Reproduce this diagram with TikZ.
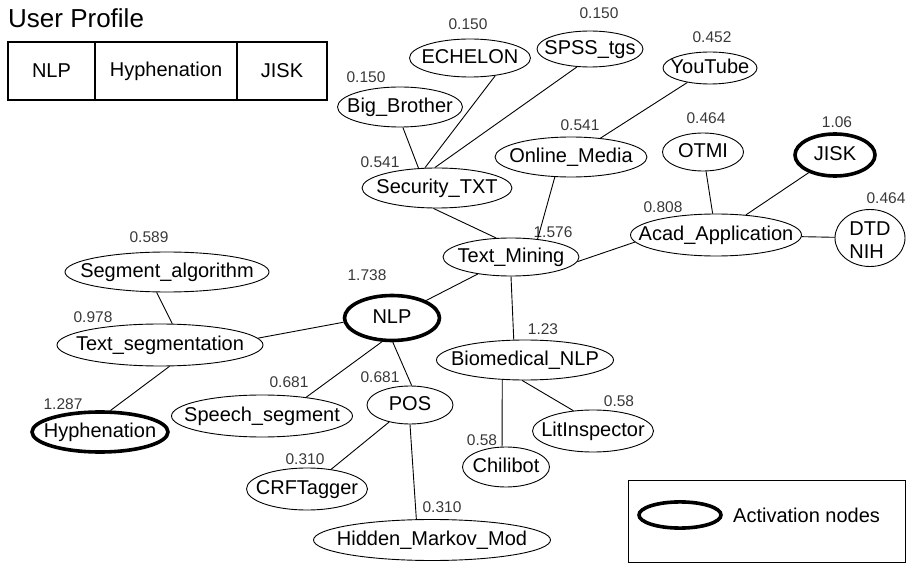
\documentclass[tikz,border=0pt]{standalone}
\usepackage{fontspec}
\setmainfont{Liberation Sans}
\usetikzlibrary{shapes.geometric}
\definecolor{ValueClr}{rgb}{0.22,0.22,0.22}
\newcommand{\TopicFont}{\fontsize{20}{23}\selectfont}
\newcommand{\ValueFont}{\fontsize{15.5}{18}\selectfont}
\newcommand{\TitleFont}{\fontsize{26}{30}\selectfont}
\newcommand{\Tpc}[1]{\makebox[0pt]{#1}}

\begin{document}
\begin{tikzpicture}[x=1pt,y=-1pt,
  topic/.style={ellipse,draw,line width=0.9pt,inner sep=0pt,text height=14.5pt,text depth=4pt,font=\TopicFont},
  active/.style={topic,line width=3.6pt},
  value/.style={inner sep=0pt,text=ValueClr,font=\ValueFont},
  cell/.style={draw,line width=1.8pt,minimum height=58pt,inner sep=0pt,font=\TopicFont},
  link/.style={line width=0.9pt}]
\useasboundingbox (0,0) rectangle (906,564);

\node[anchor=base west,inner sep=0pt,font=\TitleFont] (title) at (8,28) {User Profile};
\node[cell,minimum width=87pt] (cNLP) at (51.5,71) {NLP};
\node[cell,minimum width=142pt] (cHyph) at (166,71) {Hyphenation};
\node[cell,minimum width=90pt] (cJISK) at (282,71) {JISK};

\node[topic,minimum width=121pt,minimum height=38pt] (echelon) at (470,58) {\Tpc{ECHELON}};
\node[topic,minimum width=106pt,minimum height=36pt] (spss) at (590,49) {\Tpc{SPSS\_tgs}};
\node[topic,minimum width=94pt,minimum height=32pt] (youtube) at (710,68) {\Tpc{YouTube}};
\node[topic,minimum width=125pt,minimum height=40pt] (bigbro) at (400,107) {\Tpc{Big\_Brother}};
\node[topic,minimum width=150pt,minimum height=40pt] (sectxt) at (437,188) {\Tpc{Security\_TXT}};
\node[topic,minimum width=152pt,minimum height=40pt] (online) at (571,157) {\Tpc{Online\_Media}};
\node[topic,minimum width=81pt,minimum height=38pt] (otmi) at (703,152) {\Tpc{OTMI}};
\node[active,minimum width=80pt,minimum height=42pt] (jisk) at (835,155) {\Tpc{JISK}};
\node[topic,minimum width=171pt,minimum height=42pt] (acad) at (716,235) {\Tpc{Acad\_Application}};
\node[topic,minimum width=70pt,minimum height=57pt] (dtd) at (870,238) {\Tpc{\smash{\raisebox{-4pt}{\begin{tabular}{@{}l@{}}DTD\\NIH\end{tabular}}}}};
\node[topic,minimum width=136pt,minimum height=38pt] (textmining) at (511,257) {\Tpc{Text\_Mining}};
\node[topic,minimum width=204pt,minimum height=40pt] (segalg) at (167,272) {\Tpc{Segment\_algorithm}};
\node[topic,minimum width=206pt,minimum height=42pt] (textseg) at (160,345) {\Tpc{Text\_segmentation}};
\node[active,minimum width=95pt,minimum height=45pt] (nlp) at (392,318) {\Tpc{NLP}};
\node[topic,minimum width=181pt,minimum height=42pt] (speech) at (262,416) {\Tpc{Speech\_segment}};
\node[topic,minimum width=86pt,minimum height=38pt] (pos) at (410,405) {\Tpc{POS}};
\node[active,minimum width=136pt,minimum height=40pt] (hyph) at (100,432) {\Tpc{Hyphenation}};
\node[topic,minimum width=177pt,minimum height=40pt] (biomed) at (525,360) {\Tpc{Biomedical\_NLP}};
\node[topic,minimum width=121pt,minimum height=42pt] (litinsp) at (593,431) {\Tpc{LitInspector}};
\node[topic,minimum width=87pt,minimum height=40pt] (chili) at (506,467) {\Tpc{Chilibot}};
\node[topic,minimum width=121pt,minimum height=42pt] (crf) at (307,489) {\Tpc{CRFTagger}};
\node[topic,minimum width=237pt,minimum height=41pt] (hmm) at (432,540) {\Tpc{Hidden\_Markov\_Mod}};

\node[value] (vEchelon) at (468,24) {0.150};
\node[value] (vSpss) at (599,13) {0.150};
\node[value] (vYoutube) at (712,37) {0.452};
\node[value] (vBigbro) at (366,77) {0.150};
\node[value] (vSectxt) at (380,162) {0.541};
\node[value] (vOnline) at (580,125) {0.541};
\node[value] (vOtmi) at (706,118) {0.464};
\node[value] (vJisk) at (837,122) {1.06};
\node[value] (vAcad) at (663,207) {0.808};
\node[value] (vDtd) at (886,198) {0.464};
\node[value] (vTextmining) at (553,232) {1.576};
\node[value] (vSegalg) at (149,237) {0.589};
\node[value] (vNlp) at (367,275) {1.738};
\node[value] (vTextseg) at (93,317) {0.978};
\node[value] (vSpeech) at (289,382) {0.681};
\node[value] (vPos) at (380,377) {0.681};
\node[value] (vHyph) at (63,404) {1.287};
\node[value] (vBiomed) at (543,329) {1.23};
\node[value] (vLitinsp) at (619,401) {0.58};
\node[value] (vChili) at (482,440) {0.58};
\node[value] (vCrf) at (305,459) {0.310};
\node[value] (vHmm) at (442,507) {0.310};

\draw[link] (bigbro.-82) -- (sectxt.133);
\draw[link] (echelon.-35) -- (sectxt.121);
\draw[link] (spss.-126) -- (sectxt.96);
\draw[link] (youtube) -- (online);
\draw[link] (online.-129) -- (textmining.34);
\draw[link] (sectxt.-100) -- (textmining.128);
\draw[link] (textmining.-4) -- (acad.185);
\draw[link] (otmi) -- (acad);
\draw[link] (jisk) -- (acad);
\draw[link] (acad) -- (dtd);
\draw[link] (textmining) -- (nlp);
\draw[link] (textmining.south) -- (biomed.119);
\draw[link] (segalg.-117) -- (textseg.60);
\draw[link] (textseg.4) -- (nlp.185);
\draw[link] (textseg.-66) -- (hyph.64);
\draw[link] (nlp.-113) -- (speech.23);
\draw[link] (nlp.-88) -- (pos.85);
\draw[link] (pos) -- (crf);
\draw[link] (pos.south) -- (hmm.127);
\draw[link] (biomed.-139) -- (chili.101);
\draw[link] (biomed.-98) -- (litinsp.134);

\node[draw,line width=0.9pt,minimum width=277pt,minimum height=82pt,inner sep=0pt] (legend) at (766.5,521) {};
\node[active,minimum width=82pt,minimum height=23pt] (lgdmark) at (680,515) {};
\node[anchor=west,inner sep=0pt,font=\TopicFont] (lgdtext) at (733,515) {Activation nodes};
\end{tikzpicture}
\end{document}
